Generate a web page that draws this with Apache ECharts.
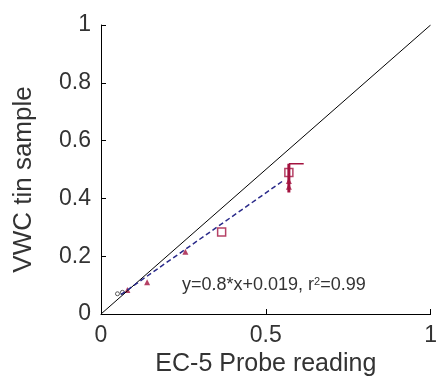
<!DOCTYPE html>
<html><head><meta charset="utf-8">
<script src="https://cdn.jsdelivr.net/npm/echarts@6/dist/echarts.min.js"></script>
<style>html,body{margin:0;padding:0;background:#fff}#c{width:440px;height:386px}</style>
</head><body><div id="c"></div>
<script>
var xTicks = [0, 0.5, 1];
var yTicks = [0, 0.2, 0.4, 0.6, 0.8, 1];
var oneToOne = [[0, 0], [1, 1]];
var fitLine = [[0.06, 0.067], [0.55, 0.459]];
var redPoints = [[0.08, 0.083], [0.14, 0.11], [0.256, 0.215], [0.57, 0.46], [0.57, 0.44]];
var redSquares = [[0.366, 0.284], [0.57, 0.49]];
var blackPoints = [[0.05, 0.07], [0.065, 0.075]];
var errVert = [[0.57, 0.42], [0.57, 0.52]];
var errHoriz = [[0.57, 0.52], [0.615, 0.52]];
var annotation = 'y=0.8*x+0.019, r{sup|2}=0.99';

var red = '#a3123f';
var font = 'Liberation Sans, Arial, sans-serif';
var chart = echarts.init(document.getElementById('c'));
chart.setOption({
  animation: false,
  grid: {left: 101, right: 3, top: 25, bottom: 72},
  xAxis: {
    type: 'value', min: 0, max: 1, interval: 0.5,
    name: 'EC-5 Probe reading', nameLocation: 'middle', nameGap: 34,
    nameTextStyle: {fontSize: 25, color: '#333', fontFamily: font},
    axisLine: {lineStyle: {color: '#000', width: 1}},
    axisTick: {inside: true, length: 5, lineStyle: {color: '#000'}},
    axisLabel: {fontSize: 23, color: '#333', fontFamily: font, margin: 10,
      formatter: function (v) { return String(v); }},
    splitLine: {show: false}
  },
  yAxis: {
    type: 'value', min: 0, max: 1, interval: 0.2,
    name: 'VWC tin sample', nameLocation: 'middle', nameGap: 64,
    nameTextStyle: {fontSize: 26, color: '#333', fontFamily: font, padding: [0, 20, 0, 0]},
    axisLine: {show: true, lineStyle: {color: '#000', width: 1}},
    axisTick: {show: true, inside: true, length: 5, lineStyle: {color: '#000'}},
    axisLabel: {fontSize: 23, color: '#333', fontFamily: font, margin: 10,
      formatter: function (v) { return String(v); }},
    splitLine: {show: false}
  },
  series: [
    {type: 'line', data: oneToOne, symbol: 'none', lineStyle: {color: '#000', width: 1}},
    {type: 'line', data: fitLine, symbol: 'none', lineStyle: {color: '#2a2a8a', width: 1.5, type: [5, 3]}},
    {type: 'line', data: errVert, symbol: 'none', lineStyle: {color: red, width: 3}},
    {type: 'line', data: errHoriz, symbol: 'none', lineStyle: {color: red, width: 1.5}},
    {type: 'scatter', data: redPoints, symbol: 'triangle', symbolSize: 6, itemStyle: {color: red}},
    {type: 'scatter', data: redSquares, symbol: 'rect', symbolSize: 8,
      itemStyle: {color: 'rgba(0,0,0,0)', borderColor: red, borderWidth: 1.5}},
    {type: 'scatter', data: blackPoints, symbol: 'circle', symbolSize: 4,
      itemStyle: {color: 'rgba(0,0,0,0)', borderColor: '#333', borderWidth: 1}}
  ],
  graphic: [{
    type: 'text', left: 182, top: 276,
    style: {text: annotation, fontSize: 18, fill: '#333', fontFamily: font,
      rich: {sup: {fontSize: 11, verticalAlign: 'top', padding: [0, 0, 8, 0], fill: '#333'}}}
  }]
});
</script>
</body></html>
